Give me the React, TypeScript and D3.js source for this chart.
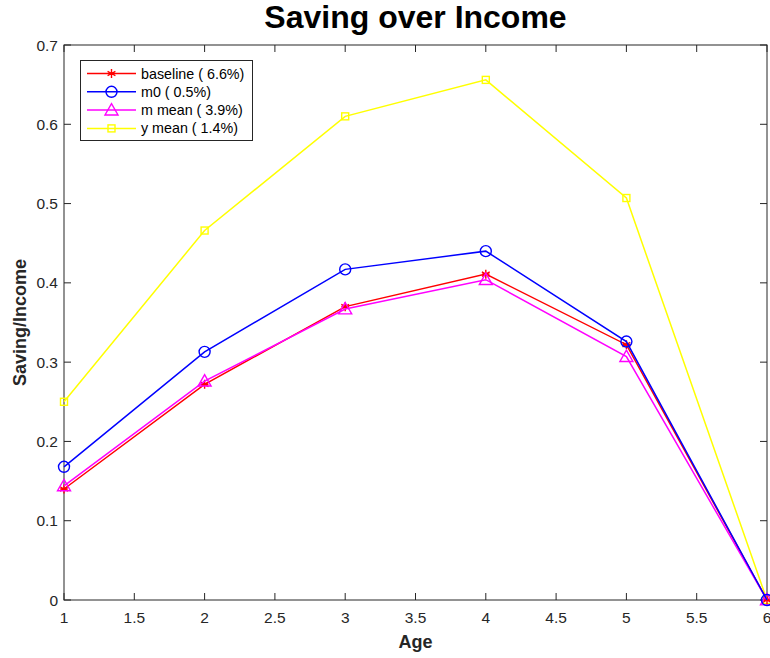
import { useEffect, useRef } from 'react';
import * as d3 from 'd3';

const ages = [1, 2, 3, 4, 5, 6];
const baseline = [0.14, 0.272, 0.37, 0.411, 0.322, 0];
const m0 = [0.168, 0.313, 0.417, 0.44, 0.326, 0];
const mMean = [0.144, 0.276, 0.367, 0.404, 0.307, 0];
const yMean = [0.25, 0.466, 0.61, 0.656, 0.507, 0];

const seriesNames = ['baseline ( 6.6%)', 'm0 ( 0.5%)', 'm mean ( 3.9%)', 'y mean ( 1.4%)'];
const seriesColors = ['#ff0000', '#0000ff', '#ff00ff', '#ffff00'];
const seriesMarkers = ['star', 'circle', 'triangle', 'square'];
const xTicks = [1, 1.5, 2, 2.5, 3, 3.5, 4, 4.5, 5, 5.5, 6];
const yTicks = [0, 0.1, 0.2, 0.3, 0.4, 0.5, 0.6, 0.7];

const W = 770;
const H = 658;
const margin = { left: 64, right: 3, top: 45, bottom: 58 };
const font = 'Liberation Sans, Arial, Helvetica, sans-serif';
const axisColor = '#262626';

function drawMarker(g: d3.Selection<SVGGElement, unknown, null, undefined>, kind: string, x: number, y: number, color: string) {
    if (kind === 'circle') {
        g.append('circle').attr('cx', x).attr('cy', y).attr('r', 5.5)
            .attr('fill', 'none').attr('stroke', color).attr('stroke-width', 1.4);
    } else if (kind === 'triangle') {
        const s = 6.5;
        g.append('path')
            .attr('d', `M${x},${y - s}L${x + s},${y + s * 0.75}L${x - s},${y + s * 0.75}Z`)
            .attr('fill', 'none').attr('stroke', color).attr('stroke-width', 1.4);
    } else if (kind === 'square') {
        g.append('rect').attr('x', x - 3.5).attr('y', y - 3.5).attr('width', 7).attr('height', 7)
            .attr('fill', 'none').attr('stroke', color).attr('stroke-width', 1.4);
    } else {
        // asterisk
        const s = 4.5;
        const d = [0, 60, 120].map(a => {
            const r = (a * Math.PI) / 180;
            return `M${x - s * Math.sin(r)},${y - s * Math.cos(r)}L${x + s * Math.sin(r)},${y + s * Math.cos(r)}`;
        }).join('') + `M${x - s * 0.85},${y}L${x + s * 0.85},${y}`;
        g.append('path').attr('d', d).attr('stroke', color).attr('stroke-width', 1.4).attr('fill', 'none');
    }
}

export default function App() {
    const svgRef = useRef<SVGSVGElement>(null);

    useEffect(() => {
        if (!svgRef.current) return;
        const svg = d3.select(svgRef.current);
        svg.selectAll('*').remove();

        const x = d3.scaleLinear().domain([1, 6]).range([margin.left, W - margin.right]);
        const y = d3.scaleLinear().domain([0, 0.7]).range([H - margin.bottom, margin.top]);
        const x0 = x.range()[0], x1 = x.range()[1];
        const y0 = y.range()[0], y1 = y.range()[1];

        svg.append('rect').attr('width', W).attr('height', H).attr('fill', '#fff');

        // axes box and ticks
        const ax = svg.append('g').attr('stroke', axisColor).attr('stroke-width', 1);
        ax.append('rect').attr('x', x0).attr('y', y1).attr('width', x1 - x0).attr('height', y0 - y1)
            .attr('fill', 'none');
        const tl = 7;
        xTicks.forEach(t => {
            ax.append('line').attr('x1', x(t)).attr('x2', x(t)).attr('y1', y0).attr('y2', y0 - tl);
            ax.append('line').attr('x1', x(t)).attr('x2', x(t)).attr('y1', y1).attr('y2', y1 + tl);
        });
        yTicks.forEach(t => {
            ax.append('line').attr('x1', x0).attr('x2', x0 + tl).attr('y1', y(t)).attr('y2', y(t));
            ax.append('line').attr('x1', x1).attr('x2', x1 - tl).attr('y1', y(t)).attr('y2', y(t));
        });

        svg.append('g').selectAll('text').data(xTicks).join('text')
            .attr('x', d => x(d)).attr('y', y0 + 23)
            .attr('text-anchor', 'middle').attr('font-family', font).attr('font-size', 15.5)
            .attr('fill', axisColor).text(d => d3.format('~g')(d));

        svg.append('g').selectAll('text').data(yTicks).join('text')
            .attr('x', x0 - 6).attr('y', d => y(d) + 5.5)
            .attr('text-anchor', 'end').attr('font-family', font).attr('font-size', 15.5)
            .attr('fill', axisColor).text(d => d3.format('~g')(d));

        // labels
        svg.append('text').attr('x', (x0 + x1) / 2).attr('y', 28)
            .attr('text-anchor', 'middle').attr('font-family', font).attr('font-size', 32)
            .attr('font-weight', 'bold').attr('fill', '#000').text('Saving over Income');
        svg.append('text').attr('x', (x0 + x1) / 2).attr('y', 648)
            .attr('text-anchor', 'middle').attr('font-family', font).attr('font-size', 18)
            .attr('font-weight', 'bold').attr('fill', axisColor).text('Age');
        svg.append('text').attr('transform', `translate(26,${(y0 + y1) / 2}) rotate(-90)`)
            .attr('text-anchor', 'middle').attr('font-family', font).attr('font-size', 18)
            .attr('font-weight', 'bold').attr('fill', axisColor).text('Saving/Income');

        // series
        const allSeries = [baseline, m0, mMean, yMean];
        const line = d3.line<number>().x((_, i) => x(ages[i])).y(d => y(d));
        const order = [3, 0, 2, 1];
        order.forEach(k => {
            const g = svg.append('g');
            g.append('path').attr('d', line(allSeries[k])).attr('fill', 'none')
                .attr('stroke', seriesColors[k]).attr('stroke-width', 1.5);
            allSeries[k].forEach((v, i) => drawMarker(g, seriesMarkers[k], x(ages[i]), y(v), seriesColors[k]));
        });

        // legend
        const lg = svg.append('g');
        lg.append('rect').attr('x', 80.5).attr('y', 60.5).attr('width', 172).attr('height', 80)
            .attr('fill', '#fff').attr('stroke', axisColor).attr('stroke-width', 1);
        seriesNames.forEach((name, k) => {
            const ry = 73.5 + k * 18.3;
            lg.append('line').attr('x1', 87).attr('x2', 136).attr('y1', ry).attr('y2', ry)
                .attr('stroke', seriesColors[k]).attr('stroke-width', 1.5);
            drawMarker(lg, seriesMarkers[k], 111.5, ry, seriesColors[k]);
            lg.append('text').attr('x', 141).attr('y', ry + 5)
                .attr('font-family', font).attr('font-size', 14.3).attr('fill', '#000').text(name);
        });
    }, []);

    return (
        <svg ref={svgRef} width={W} height={H}
            style={{ position: 'absolute', left: 0, top: 0, display: 'block' }} />
    );
}
